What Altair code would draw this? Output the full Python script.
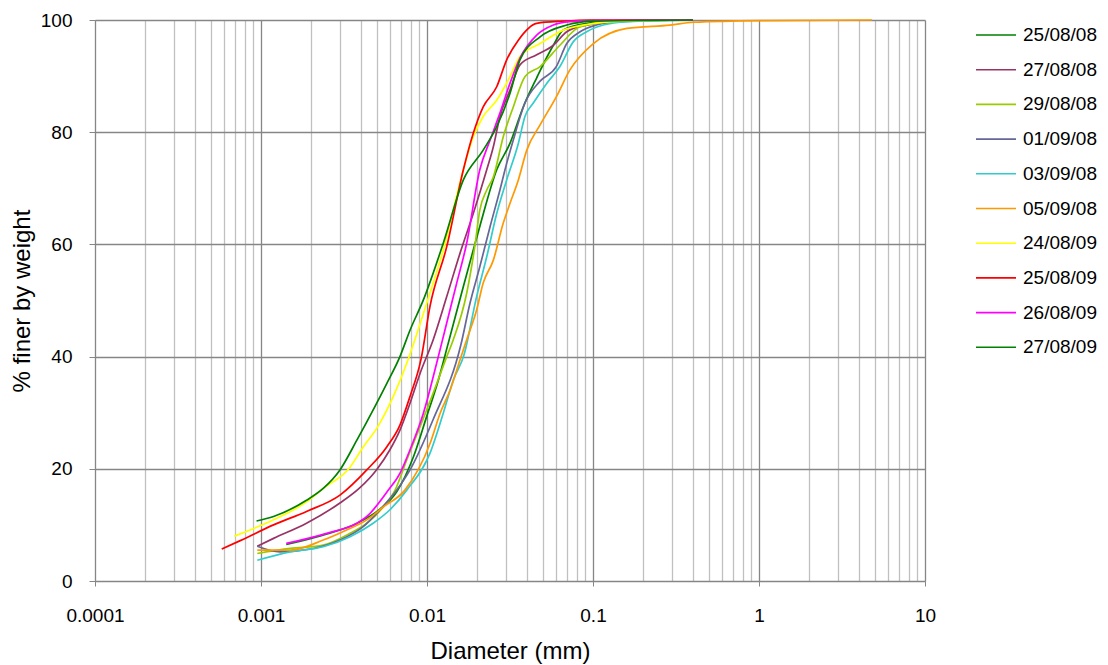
import altair as alt
import pandas as pd

# Particle size distributions: diameter (mm) vs cumulative % finer by weight
labels = ["25/08/08", "27/08/08", "29/08/08", "01/09/08", "03/09/08",
          "05/09/08", "\u00a024/08/09", "25/08/09", "26/08/09", "27/08/09"]
colors = ["#008000", "#993366", "#99CC00", "#666699", "#33CCCC",
          "#FF9900", "#FFFF00", "#FF0000", "#FF00FF", "#008000"]

d_250808 = [0.00142, 0.0025, 0.0038, 0.0052, 0.0066, 0.0083, 0.00995, 0.0117, 0.01343, 0.01656,
            0.019, 0.0208, 0.0263, 0.0316, 0.038, 0.0458, 0.0577, 0.0662, 0.0916, 0.15, 0.4]
p_250808 = [6.5, 8.4, 10.3, 12.8, 16.0, 22.2, 29.3, 35.8, 42.4, 52.5,
            59.0, 63.2, 73.3, 78.0, 84.5, 89.7, 95.5, 98.2, 99.4, 99.9, 100]

d_270808 = [0.00095, 0.00119, 0.00188, 0.00299, 0.0039, 0.00496, 0.00598, 0.00687, 0.0079, 0.00908,
            0.0109, 0.01315, 0.0158, 0.019, 0.0229, 0.0251, 0.0275, 0.0316, 0.0363, 0.0458,
            0.0577, 0.0695, 0.0916, 0.15, 0.4]
p_270808 = [6.2, 7.6, 10.3, 13.9, 16.5, 19.8, 23.4, 26.9, 31.7, 37.0,
            43.0, 50.7, 58.4, 65.5, 73.3, 77.4, 82.8, 87.5, 92.0, 93.8,
            95.5, 97.9, 99.1, 99.8, 100]

d_290808 = [0.00095, 0.0015, 0.00237, 0.00344, 0.00434, 0.00546, 0.00642, 0.00755, 0.00908, 0.0109,
            0.01315, 0.0144, 0.01734, 0.0194, 0.0208, 0.0229, 0.0251, 0.0288, 0.0331, 0.0389,
            0.048, 0.0632, 0.0836, 0.15, 0.4]
p_290808 = [4.9, 5.8, 6.4, 8.5, 10.3, 13.2, 16.2, 21.6, 27.5, 33.5,
            40.0, 43.0, 51.3, 59.6, 66.1, 69.7, 72.0, 79.2, 84.5, 89.9,
            91.7, 95.5, 98.8, 99.9, 100]

d_010908 = [0.00095, 0.0013, 0.00207, 0.00299, 0.00413, 0.00521, 0.00657, 0.0079, 0.01086, 0.016,
            0.01815, 0.0208, 0.024, 0.0275, 0.0295, 0.0331, 0.0389, 0.048, 0.0601, 0.0695,
            0.0836, 0.105, 0.146, 0.4]
p_010908 = [6.2, 5.2, 5.8, 7.3, 9.7, 12.7, 16.2, 19.8, 28.7, 42.1,
            49.5, 56.0, 63.2, 69.7, 73.3, 78.6, 85.2, 89.1, 91.7, 95.8,
            97.9, 99.1, 99.7, 100]

d_030908 = [0.00095, 0.0015, 0.00237, 0.00344, 0.00474, 0.00598, 0.00755, 0.01043, 0.01253, 0.0144,
            0.0167, 0.0199, 0.0229, 0.0263, 0.0302, 0.0355, 0.0389, 0.0437, 0.0526, 0.0632,
            0.076, 0.0916, 0.1153, 0.16, 0.4]
p_030908 = [3.7, 5.2, 6.1, 7.9, 10.3, 12.7, 16.2, 22.8, 29.9, 35.8,
            40.3, 50.7, 57.8, 65.5, 71.5, 78.0, 82.8, 85.2, 88.7, 91.7,
            96.1, 97.9, 99.1, 99.7, 100]

d_050908 = [0.00095, 0.0015, 0.00237, 0.00328, 0.00434, 0.00546, 0.00736, 0.01043, 0.012, 0.01377,
            0.0158, 0.01734, 0.0199, 0.0218, 0.0251, 0.0288, 0.0316, 0.0355, 0.0399, 0.048,
            0.0601, 0.0726, 0.1005, 0.16, 0.291, 0.402, 1.01, 4.8]
p_050908 = [5.5, 5.5, 7.3, 9.1, 10.9, 13.2, 16.2, 24.5, 29.9, 34.0,
            39.4, 43.0, 48.3, 53.1, 57.2, 63.8, 67.3, 71.5, 76.8, 81.3,
            86.3, 91.1, 95.8, 98.5, 99.1, 99.6, 99.9, 100]

d_240809 = [0.00069, 0.00119, 0.00188, 0.00237, 0.0034, 0.00413, 0.00498, 0.00627, 0.00755, 0.00867,
            0.00995, 0.01253, 0.01656, 0.019, 0.0218, 0.0263, 0.0316, 0.0363, 0.048, 0.0662,
            0.0916, 0.15, 0.4]
p_240809 = [8.0, 10.9, 14.1, 16.5, 20.1, 23.9, 27.2, 32.9, 38.8, 44.0,
            49.5, 59.0, 73.3, 79.2, 82.8, 85.7, 89.9, 93.5, 95.8, 98.2,
            99.2, 99.8, 100]

d_250809 = [0.00058, 0.00075, 0.00119, 0.00188, 0.00299, 0.00434, 0.00572, 0.00687, 0.0079, 0.0092,
            0.01043, 0.01315, 0.01656, 0.019, 0.0218, 0.0263, 0.0302, 0.0355, 0.0458, 0.066,
            0.1, 0.4]
p_250809 = [5.7, 7.2, 10.0, 12.4, 15.3, 19.8, 23.9, 27.8, 32.9, 39.5,
            49.0, 59.6, 73.3, 79.8, 84.5, 88.1, 92.9, 96.4, 99.4, 99.8,
            100, 100]

d_260809 = [0.00142, 0.00249, 0.00378, 0.00434, 0.00585, 0.00687, 0.0079, 0.00951, 0.01143, 0.01282,
            0.0151, 0.01734, 0.0208, 0.024, 0.0275, 0.0316, 0.0363, 0.0458, 0.0577, 0.0726,
            0.1, 0.4]
p_260809 = [6.7, 8.5, 10.3, 11.5, 16.2, 19.2, 23.4, 29.9, 38.8, 44.7,
            53.1, 60.2, 73.3, 78.6, 83.4, 88.7, 93.2, 97.3, 99.1, 99.7,
            99.9, 100]

d_270809 = [0.00094, 0.00119, 0.00188, 0.00237, 0.00299, 0.00378, 0.00474, 0.00572, 0.00687, 0.0079,
            0.00951, 0.01253, 0.01656, 0.0218, 0.0263, 0.0316, 0.0363, 0.048, 0.0695, 0.1, 0.4]
p_270809 = [10.7, 11.5, 14.4, 16.5, 19.8, 25.1, 30.5, 35.2, 40.0, 44.7,
            50.1, 60.2, 71.5, 76.8, 81.0, 86.9, 92.9, 97.0, 99.1, 99.8, 100]

series = [
    (labels[0], d_250808, p_250808),
    (labels[1], d_270808, p_270808),
    (labels[2], d_290808, p_290808),
    (labels[3], d_010908, p_010908),
    (labels[4], d_030908, p_030908),
    (labels[5], d_050908, p_050908),
    (labels[6], d_240809, p_240809),
    (labels[7], d_250809, p_250809),
    (labels[8], d_260809, p_260809),
    (labels[9], d_270809, p_270809),
]

rows = []
for order, (name, ds, ps) in enumerate(series):
    for d, p in zip(ds, ps):
        rows.append({"sample": name, "order": order, "diameter": d, "finer": p})
df = pd.DataFrame(rows)

# gridline positions: every 1..9 multiple in each decade
x_ticks = [round(m * 10.0 ** e, 6) for e in range(-4, 1) for m in range(1, 10)] + [10.0]
y_ticks = [0, 20, 40, 60, 80, 100]

is_decade = "abs(log(datum.value)/LN10 - round(log(datum.value)/LN10)) < 0.000001"
FONT = "Liberation Sans"

x_axis = alt.Axis(
    values=x_ticks,
    title="Diameter (mm)",
    labelExpr=f"{is_decade} ? format(datum.value, '~g') : ''",
    labelOverlap=False,
    labelFlush=False,
    labelFont=FONT, labelFontSize=19, labelColor="#000000", labelPadding=20,
    titleFont=FONT, titleFontSize=24, titleFontWeight="normal", titleColor="#000000",
    titlePadding=14,
    tickSize=5,
    tickColor="#868686",
    tickOpacity={"condition": {"test": is_decade, "value": 1}, "value": 0},
    domainColor="#868686",
    gridColor={"condition": {"test": is_decade, "value": "#868686"}, "value": "#c0c0c0"},
    gridWidth=1.3,
)

y_axis = alt.Axis(
    values=y_ticks,
    title="% finer by weight",
    labelFont=FONT, labelFontSize=19, labelColor="#000000", labelPadding=17,
    titleFont=FONT, titleFontSize=24, titleFontWeight="normal", titleColor="#000000",
    titlePadding=6,
    tickSize=6, tickColor="#868686",
    domainColor="#868686",
    gridColor="#868686", gridWidth=1.3,
)

legend = alt.Legend(
    title=None,
    orient="none",
    legendX=880,
    legendY=7,
    symbolType="stroke",
    symbolSize=1600,
    symbolStrokeWidth=1.6,
    clipHeight=16,
    rowPadding=15.7,
    labelOffset=6,
    labelFont=FONT,
    labelFontSize=19,
    labelColor="#000000",
    padding=0,
)

chart = (
    alt.Chart(df)
    .mark_line(interpolate="monotone", strokeWidth=1.7)
    .encode(
        x=alt.X("diameter:Q", scale=alt.Scale(type="log", domain=[0.0001, 10], nice=False), axis=x_axis),
        y=alt.Y("finer:Q", scale=alt.Scale(domain=[0, 100], nice=False), axis=y_axis),
        color=alt.Color("sample:N", scale=alt.Scale(domain=labels, range=colors), legend=legend),
        order=alt.Order("order:Q"),
    )
    .properties(
        width=830,
        height=561,
        autosize=alt.AutoSizeParams(type="none"),
        padding={"left": 95, "top": 20, "right": 183, "bottom": 84},
        background="white",
    )
    .configure_view(stroke=None)
)

chart.save("out.html", embed_options={"renderer": "svg", "actions": False})
